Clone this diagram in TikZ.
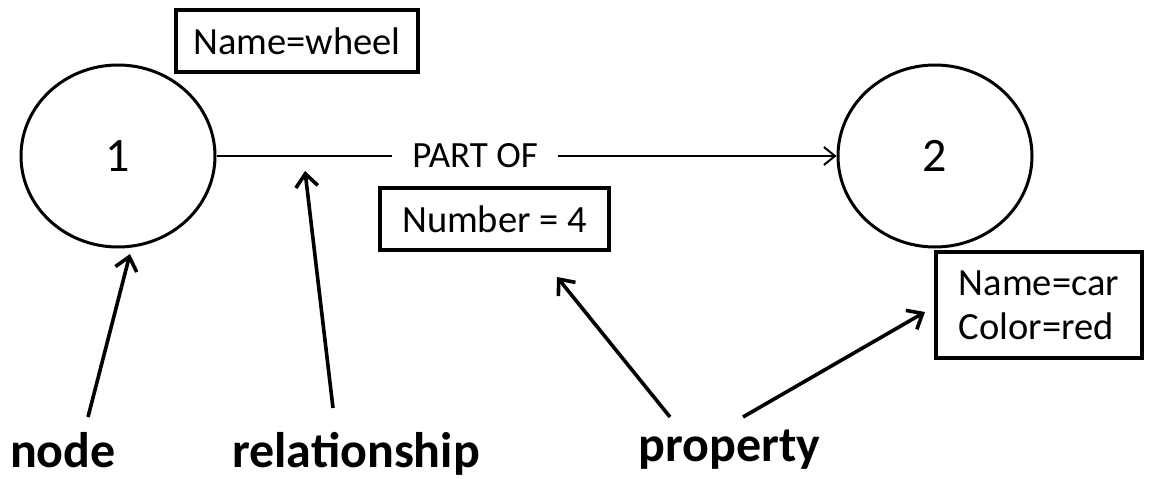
\documentclass[tikz,border=0pt]{standalone}
\usepackage{fontspec}
\setmainfont{Carlito}
\usetikzlibrary{shapes.geometric,arrows.meta}
\tikzset{
  entity/.style={draw, ellipse, line width=3pt, minimum width=194pt, minimum height=182pt, inner sep=0pt,
    font=\fontsize{48}{52}\selectfont},
  propbox/.style={draw, rectangle, line width=3.2pt, inner sep=0pt, align=left,
    font=\fontsize{38.5}{44}\selectfont},
  reltext/.style={fill=white, inner xsep=20pt, font=\fontsize{37}{44}\selectfont},
  rel/.style={line width=2pt, -{Straight Barb[length=11pt,width=18pt,line width=2pt]}},
  pointer/.style={line width=3.6pt, -{Straight Barb[length=13pt,width=22pt,line width=3.6pt]}},
  legend/.style={font=\bfseries\fontsize{50}{54}\selectfont, anchor=base}
}
\begin{document}
\begin{tikzpicture}[x=1pt,y=-1pt]
\useasboundingbox (0,0) rectangle (1149,479);

% graph: two entities joined by a relationship
\node[entity] (n1) at (118,156) {1};
\node[entity] (n2) at (935,156) {2};
\draw[rel] (n1.east) -- node[reltext, pos=0.417] (reltxt) {PART OF} (n2.west);

% properties
\node[propbox, minimum width=242pt, minimum height=62pt] (pwheel) at (297,41) {Name=wheel};
\node[propbox, minimum width=229pt, minimum height=62pt] (pnum) at (494.5,219) {Number = 4};
\node[propbox, minimum width=206pt, minimum height=106pt] (pcar) at (1039,305) {Name=car\\Color=red};

% legend labels
\node[legend] (lnode) at (63,467) {node};
\node[legend] (lrel) at (356,467) {relationship};
\node[legend] (lprop) at (729.5,461) {property};

% pointer ends
\coordinate (tNode) at (88,417);
\coordinate (hNode) at (130,254);
\coordinate (tRel) at (333,408);
\coordinate (hRel) at (305,171);
\coordinate (tProp1) at (670,417);
\coordinate (hProp1) at (557,277);
\coordinate (tProp2) at (743,417);
\coordinate (hProp2) at (925,312);

\draw[pointer] (tNode) -- (hNode);
\draw[pointer] (tRel) -- (hRel);
\draw[pointer] (tProp1) -- (hProp1);
\draw[pointer] (tProp2) -- (hProp2);
\end{tikzpicture}
\end{document}
